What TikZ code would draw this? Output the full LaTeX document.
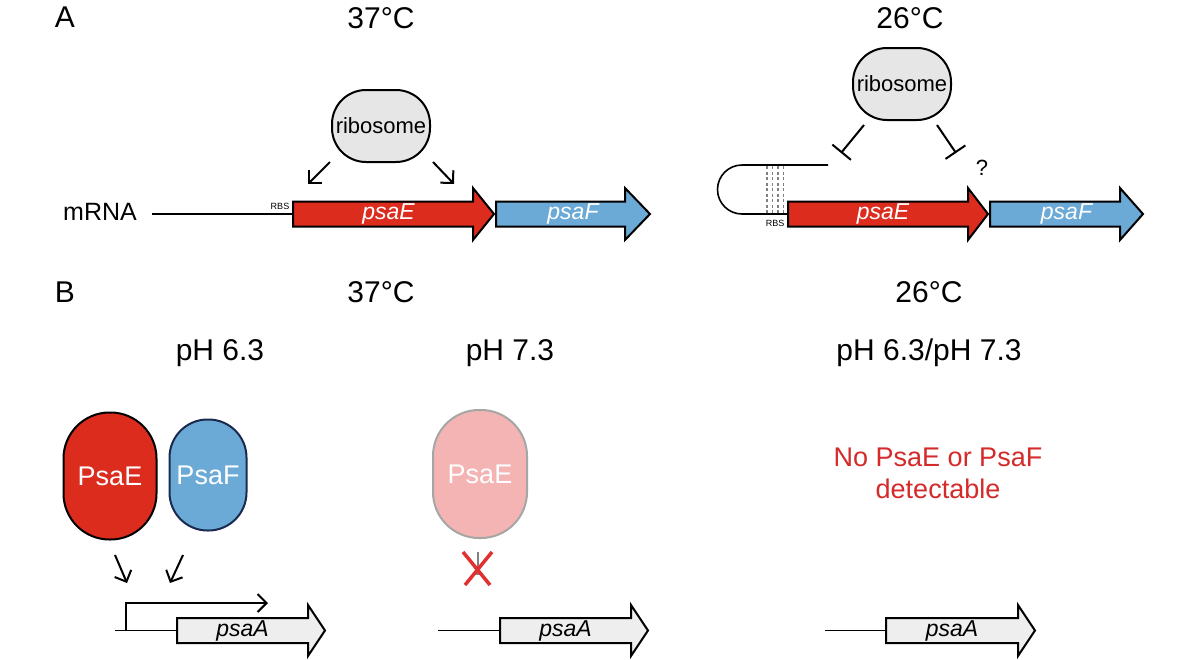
\documentclass[tikz,border=0pt]{standalone}
\usepackage{fontspec}
\setmainfont{Liberation Sans}
\usetikzlibrary{arrows.meta}
\definecolor{gred}{HTML}{DC2C1E}
\definecolor{gblue}{HTML}{6BAAD6}
\definecolor{gpink}{HTML}{F4B4B4}
\definecolor{ggray}{HTML}{EEEEEE}
\definecolor{ribgray}{HTML}{E6E6E6}
\definecolor{navy}{HTML}{1A2A50}
\definecolor{txtred}{HTML}{D42A2A}
\definecolor{xred}{HTML}{E03030}
\newcommand\fs[1]{\fontsize{#1}{#1}\selectfont}
% name, x0, body end, tip, yc, half body, half head, fill
\newcommand\genearrow[8]{%
  \draw[genebox, fill=#8] (#2,#5-#6) -- (#3,#5-#6) -- (#3,#5-#7) -- (#4,#5) -- (#3,#5+#7) -- (#3,#5+#6) -- (#2,#5+#6) -- cycle;
  \coordinate (#1) at ({(#2+#4)/2},#5);
  \coordinate (#1b) at ({(#2+#3)/2},#5);
  \coordinate (#1w) at (#2,#5);}
\begin{document}
\begin{tikzpicture}[x=1pt,y=-1pt,
  genebox/.style={draw=black, line width=2pt, line join=miter},
  genelabel/.style={font=\fs{23}\itshape, inner sep=0pt},
  ribo/.style={draw, line width=2pt, fill=ribgray, rounded corners=34pt, minimum width=98pt, minimum height=72pt, inner sep=0pt, font=\fs{22}},
  title/.style={font=\fs{30}, inner sep=0pt},
  arr/.style={line width=2pt, -{Straight Barb[length=9pt,width=18pt,line width=2pt]}},
  inhib/.style={line width=2pt, -{Bar[width=24pt,line width=2pt]}},
  rna/.style={line width=1.6pt},
  small/.style={font=\fs{9}, inner sep=0pt},
  capsule/.style={line width=2pt, inner sep=0pt, font=\fs{27}, text=white}]
\useasboundingbox (0,0) rectangle (1200,659);
\fill[white] (0,0) rectangle (1200,659);

% ---------- Panel A titles
\node[title] (lA) at (65,17) {A};
\node[title] (tA1) at (381,18) {37°C};
\node[title] (tA2) at (910,18) {26°C};

% ---------- Panel A left
\node[font=\fs{25}, inner sep=0pt] (mrna) at (100,212) {mRNA};
\genearrow{psaE1}{293}{473}{494}{214}{12.5}{26}{gred}
\genearrow{psaF1}{496}{625}{650}{214}{12.5}{26}{gblue}
\coordinate (m1s) at (152,214);
\draw[rna] (m1s) -- (psaE1w);
\node[small, anchor=base] (rbs1) at (280,209) {RBS};
\node[genelabel, text=white] (lE1) at ([xshift=-5pt]psaE1) {psaE};
\node[genelabel, text=white] (lF1) at (psaF1) {psaF};
\node[ribo] (rib1) at (381,126) {ribosome};
\coordinate (a1s) at (330,162); \coordinate (a1e) at (308,184);
\coordinate (a2s) at (433,162); \coordinate (a2e) at (454,184);
\draw[arr] (a1s) -- (a1e);
\draw[arr] (a2s) -- (a2e);

% ---------- Panel A right
\node[ribo] (rib2) at (902,84) {ribosome};
\genearrow{psaE2}{788}{968}{988}{214}{12.5}{26}{gred}
\genearrow{psaF2}{990}{1120}{1143}{214}{12.5}{26}{gblue}
\node[genelabel, text=white] (lE2) at ([xshift=-5pt]psaE2) {psaE};
\node[genelabel, text=white] (lF2) at (psaF2) {psaF};
\coordinate (loopS) at (828,165);
\draw[rna] (loopS) -- (742,165) arc[start angle=270, end angle=90, radius=24.5] -- (psaE2w);
\foreach \x in {767,772.5,778,783.5}
  \draw[gray, line width=1.4pt, dash pattern=on 3pt off 2.5pt] (\x,166) -- (\x,213);
\node[small, anchor=base] (rbs2) at (775,226) {RBS};
\coordinate (i1s) at (864,125); \coordinate (i1e) at (841,153);
\coordinate (i2s) at (937,125); \coordinate (i2e) at (956,153);
\draw[inhib] (i1s) -- (i1e);
\draw[inhib] (i2s) -- (i2e);
\node[font=\fs{22}, inner sep=0pt] (q) at (982,168) {?};

% ---------- Panel B titles
\node[title] (lB) at (65,292) {B};
\node[title] (tB1) at (381,292) {37°C};
\node[title] (tB2) at (929,292) {26°C};
\node[title] (ph1) at (220,353) {pH 6.3};
\node[title] (ph2) at (510,353) {pH 7.3};
\node[title] (ph3) at (929,353) {pH 6.3/pH 7.3};

% ---------- Panel B left
\node[capsule, draw=black, fill=gred, minimum width=93pt, minimum height=127pt, rounded corners=46pt] (cE) at (110,476) {PsaE};
\node[capsule, draw=navy, fill=gblue, minimum width=77pt, minimum height=111pt, rounded corners=38pt] (cF) at (208,475) {PsaF};
\coordinate (b1s) at (115,555); \coordinate (b1e) at (127,583);
\coordinate (b2s) at (183,555); \coordinate (b2e) at (170,583);
\draw[arr] (b1s) -- (b1e);
\draw[arr] (b2s) -- (b2e);
\genearrow{psaA1}{177}{308}{325}{630.5}{12.5}{25.5}{ggray}
\node[genelabel] (lA1) at (psaA1b) {psaA};
\coordinate (p1s) at (115,630.5);
\draw[rna] (p1s) -- (psaA1w);
\coordinate (prA) at (126,630.5); \coordinate (prB) at (126,603); \coordinate (prC) at (268,603);
\draw[arr, line width=1.6pt] (prA) -- (prB) -- (prC);

% ---------- Panel B middle
\node[capsule, draw=gray!70, fill=gpink, minimum width=94pt, minimum height=128pt, rounded corners=46pt] (cEp) at (480,474) {PsaE};
\coordinate (gi1) at (478,552); \coordinate (gi2) at (478,575);
\draw[gray, line width=2pt, -{Bar[width=9pt,line width=2pt]}] (gi1) -- (gi2);
\coordinate (x1) at (463,552); \coordinate (x2) at (490,585);
\coordinate (x3) at (492,552); \coordinate (x4) at (465,585);
\draw[xred, line width=3.5pt] (x1) -- (x2);
\draw[xred, line width=3.5pt] (x3) -- (x4);
\genearrow{psaA2}{500}{631}{648}{630.5}{12.5}{25.5}{ggray}
\node[genelabel] (lA2) at (psaA2b) {psaA};
\coordinate (p2s) at (438,630.5);
\draw[rna] (p2s) -- (psaA2w);

% ---------- Panel B right
\node[font=\fs{27}, text=txtred, align=center, inner sep=0pt] (nodet) at (938,473) {No PsaE or PsaF\\[5pt]detectable};
\genearrow{psaA3}{886}{1018}{1035}{630.5}{12.5}{25.5}{ggray}
\node[genelabel] (lA3) at (psaA3b) {psaA};
\coordinate (p3s) at (825,630.5);
\draw[rna] (p3s) -- (psaA3w);
\end{tikzpicture}
\end{document}
